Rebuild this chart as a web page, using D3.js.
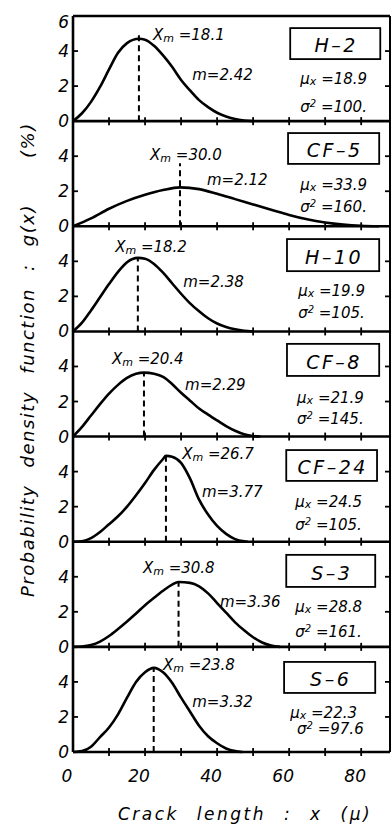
<!DOCTYPE html>
<html><head><meta charset="utf-8">
<script src="https://cdn.jsdelivr.net/npm/d3@7"></script>
<style>
body{margin:0;background:#fff}
svg{display:block}
text{font-family:"DejaVu Sans","Liberation Sans",Arial,sans-serif;font-style:italic;fill:#000}
</style>
</head><body><svg id="chart" width="392" height="829"></svg>
<script>
// ---- data ----
const specimens = ["H–2", "CF–5", "H–10", "CF–8", "CF–24", "S–3", "S–6"];
const xmLabels = ["18.1", "30.0", "18.2", "20.4", "26.7", "30.8", "23.8"];
const mLabels = ["2.42", "2.12", "2.38", "2.29", "3.77", "3.36", "3.32"];
const muLabels = ["18.9", "33.9", "19.9", "21.9", "24.5", "28.8", "22.3"];
const sigmaLabels = ["100.", "160.", "105.", "145.", "105.", "161.", "97.6"];
const modeX = [18.3, 29.7, 18.0, 19.7, 25.8, 29.3, 22.4];
const modeLineTop = [5.0, 3.6, 4.2, 3.65, 4.9, 3.7, 4.8];
const xTicks = [0, 20, 40, 60, 80];
const xMinorTicks = [10, 20, 30, 40, 50, 60, 70, 80];
const yTicks = [0, 2, 4];

const curveH2 = [[0,0],[2.5,0.45],[5,1.1],[7.5,1.95],[10,2.95],[12.5,3.9],[15,4.45],[18.3,4.7],[20,4.65],[22.5,4.3],[25,3.75],[27.5,3.1],[30,2.35],[32.5,1.75],[35,1.2],[37.5,0.8],[40,0.48],[42.5,0.27],[45,0.12],[47.5,0.04],[50,0]];
const curveCF5 = [[0,0],[5,0.45],[10,1.0],[15,1.45],[20,1.8],[25,2.07],[29.7,2.22],[35,2.12],[40,1.85],[45,1.55],[50,1.25],[55,0.95],[60,0.65],[65,0.4],[70,0.22],[75,0.1],[80,0.03],[85,0]];
const curveH10 = [[0,0],[2.5,0.5],[5,1.2],[7.5,1.95],[10,2.7],[12.5,3.4],[15,3.95],[18,4.2],[20,4.15],[22.5,3.85],[25,3.35],[27.5,2.75],[30,2.15],[32.5,1.6],[35,1.15],[37.5,0.75],[40,0.45],[42.5,0.25],[45,0.12],[47.5,0.04],[50,0]];
const curveCF8 = [[0,0],[2.5,0.55],[5,1.2],[7.5,1.85],[10,2.45],[12.5,2.95],[15,3.35],[17.5,3.58],[19.7,3.65],[22.5,3.58],[25,3.4],[27.5,3.0],[30,2.5],[32.5,2.05],[35,1.6],[37.5,1.25],[40,0.92],[42.5,0.6],[45,0.33],[47.5,0.13],[50,0.03],[52,0]];
const curveCF24 = [[0,0],[2.5,0.03],[5,0.2],[7.5,0.55],[10,1.0],[12.5,1.45],[15,2.0],[17.5,2.65],[20,3.35],[22.5,4.1],[25,4.72],[25.8,4.9],[27.5,4.85],[30,4.5],[32.5,3.6],[35,2.4],[37.5,1.55],[40,0.9],[42.5,0.45],[45,0.15],[47.5,0.02],[48.5,0]];
const curveS3 = [[0,0],[2.5,0.02],[5,0.1],[7.5,0.3],[10,0.62],[12.5,1.02],[15,1.45],[17.5,1.9],[20,2.38],[22.5,2.8],[25,3.2],[27.5,3.55],[29.3,3.7],[32.5,3.65],[35,3.45],[37.5,3.05],[40,2.5],[42.5,1.95],[45,1.4],[47.5,0.95],[50,0.55],[52.5,0.25],[55,0.08],[57.5,0]];
const curveS6 = [[0,0],[2.5,0.05],[5,0.3],[7.5,0.85],[10,1.4],[12.5,2.15],[15,3.1],[17.5,4.0],[20,4.55],[22.4,4.8],[25,4.55],[27.5,3.95],[30,3.1],[32.5,2.3],[35,1.5],[37.5,0.9],[40,0.5],[42.5,0.2],[45,0.05],[47,0]];
const curves = [curveH2, curveCF5, curveH10, curveCF8, curveCF24, curveS3, curveS6];

// ---- layout (annotation anchors in data units of each panel) ----
const xmPos = [[22.2,4.63],[21.4,3.76],[11.7,4.53],[10.8,4.15],[30.3,4.72],[19.4,4.22],[25.0,4.68]];
const mPos = [[33.1,2.35],[37.2,2.36],[30.6,2.53],[31.1,2.66],[35.8,2.55],[40.8,2.28],[33.1,2.57]];
const boxPos = [[60.3,85.3,5.31,3.54],[59.7,85.0,5.32,3.56],[59.4,85.0,5.27,3.44],[59.4,85.0,5.29,3.46],[59.2,84.4,5.23,3.47],[59.2,83.9,5.25,3.42],[58.6,83.9,5.14,3.37]];
const muPos = [[63.1,2.12],[63.1,2.07],[62.5,2.02],[62.2,1.92],[61.7,1.98],[61.7,1.99],[60.3,1.96]];
const sigPos = [[63.1,0.52],[63.1,0.82],[62.5,0.76],[62.2,0.72],[61.7,0.67],[61.7,0.57],[62.2,1.0]];

const svg = d3.select("#chart");
const mLeft = 73, mRight = 390, mTop = 16, mBottom = 752;
const nP = specimens.length;
const ph = (mBottom - mTop) / nP;
const x = d3.scaleLinear().domain([0, 88]).range([mLeft, mRight]);

const g = svg.append("g");

for (let i = 0; i < nP; i++) {
  const z = mTop + ph * (i + 1);
  const y = d3.scaleLinear().domain([0, 6]).range([z, z - ph]);
  const p = g.append("g");

  p.append("path")
    .attr("d", d3.line().x(d => x(d[0])).y(d => y(d[1])).curve(d3.curveMonotoneX)(curves[i]))
    .attr("fill", "none").attr("stroke", "#000").attr("stroke-width", 2.6)
    .attr("stroke-linejoin", "round");

  p.append("line")
    .attr("x1", x(modeX[i])).attr("x2", x(modeX[i]))
    .attr("y1", y(0)).attr("y2", y(modeLineTop[i]))
    .attr("stroke", "#000").attr("stroke-width", 2).attr("stroke-dasharray", "6,4");

  p.append("line").attr("x1", mLeft).attr("x2", mRight).attr("y1", y(0)).attr("y2", y(0))
    .attr("stroke", "#000").attr("stroke-width", 2.6);

  p.selectAll("line.xt").data(xMinorTicks).enter().append("line")
    .attr("x1", d => x(d)).attr("x2", d => x(d))
    .attr("y1", y(0) - 4).attr("y2", y(0) + 4)
    .attr("stroke", "#000").attr("stroke-width", 1.8);

  p.selectAll("line.yl").data(yTicks.filter(d => d > 0)).enter().append("line")
    .attr("x1", mLeft).attr("x2", mLeft + 5)
    .attr("y1", d => y(d)).attr("y2", d => y(d))
    .attr("stroke", "#000").attr("stroke-width", 1.8);
  p.selectAll("line.yr").data(yTicks.filter(d => d > 0)).enter().append("line")
    .attr("x1", mRight - 5).attr("x2", mRight)
    .attr("y1", d => y(d)).attr("y2", d => y(d))
    .attr("stroke", "#000").attr("stroke-width", 1.8);

  const labs = i === 0 ? yTicks.concat([6]) : yTicks;
  p.selectAll("text.yl").data(labs).enter().append("text")
    .attr("x", mLeft - 4)
    .attr("y", d => d === 6 ? y(d) + 12 : y(d) + 6)
    .attr("text-anchor", "end")
    .attr("font-size", 17)
    .text(d => d);

  const xm = p.append("text").attr("x", x(xmPos[i][0])).attr("y", y(xmPos[i][1])).attr("font-size", 15);
  xm.append("tspan").text("X");
  xm.append("tspan").attr("font-size", 11).attr("dy", 2).text("m");
  xm.append("tspan").attr("dy", -2).text(" =" + xmLabels[i]);

  p.append("text").attr("x", x(mPos[i][0])).attr("y", y(mPos[i][1])).attr("font-size", 15)
    .text("m=" + mLabels[i]);

  const b = boxPos[i];
  p.append("rect").attr("x", x(b[0])).attr("y", y(b[2]))
    .attr("width", x(b[1]) - x(b[0])).attr("height", y(b[3]) - y(b[2]))
    .attr("fill", "#fff").attr("stroke", "#000").attr("stroke-width", 1.8);
  p.append("text").attr("x", (x(b[0]) + x(b[1])) / 2 + 1).attr("y", y(b[3]) - 7)
    .attr("text-anchor", "middle").attr("font-size", 19).attr("letter-spacing", 2.5)
    .text(specimens[i]);

  const mu = p.append("text").attr("x", x(muPos[i][0])).attr("y", y(muPos[i][1])).attr("font-size", 15);
  mu.append("tspan").text("μ");
  mu.append("tspan").attr("font-size", 11).attr("dy", 1).text("x");
  mu.append("tspan").attr("dy", -1).text(" =" + muLabels[i]);

  const sg = p.append("text").attr("x", x(sigPos[i][0])).attr("y", y(sigPos[i][1])).attr("font-size", 15);
  sg.append("tspan").text("σ");
  sg.append("tspan").attr("font-size", 10).attr("dy", -5).text("2");
  sg.append("tspan").attr("dy", 5).text(" =" + sigmaLabels[i]);
}

g.append("line").attr("x1", mLeft).attr("x2", mLeft).attr("y1", mTop).attr("y2", mBottom)
  .attr("stroke", "#000").attr("stroke-width", 2.6);
g.append("line").attr("x1", mLeft).attr("x2", mRight).attr("y1", mTop).attr("y2", mTop)
  .attr("stroke", "#000").attr("stroke-width", 2.6);
g.append("line").attr("x1", mRight).attr("x2", mRight).attr("y1", mTop).attr("y2", mBottom)
  .attr("stroke", "#000").attr("stroke-width", 2);

g.selectAll("text.xl").data(xTicks).enter().append("text")
  .attr("x", d => x(d) - 6).attr("y", mBottom + 30)
  .attr("text-anchor", "middle").attr("font-size", 17)
  .text(d => d);

g.append("text").attr("x", 118).attr("y", 820).attr("font-size", 17)
  .attr("letter-spacing", 2.5).attr("word-spacing", 10)
  .text("Crack length : x (μ)");

g.append("text").attr("transform", "translate(34,597) rotate(-90)")
  .attr("font-size", 18).attr("letter-spacing", 1.5).attr("word-spacing", 10)
  .text("Probability density function : g(x)");
g.append("text").attr("transform", "translate(34,158) rotate(-90)")
  .attr("font-size", 18).attr("letter-spacing", 1.5).text("(%)");
</script>
</body></html>
